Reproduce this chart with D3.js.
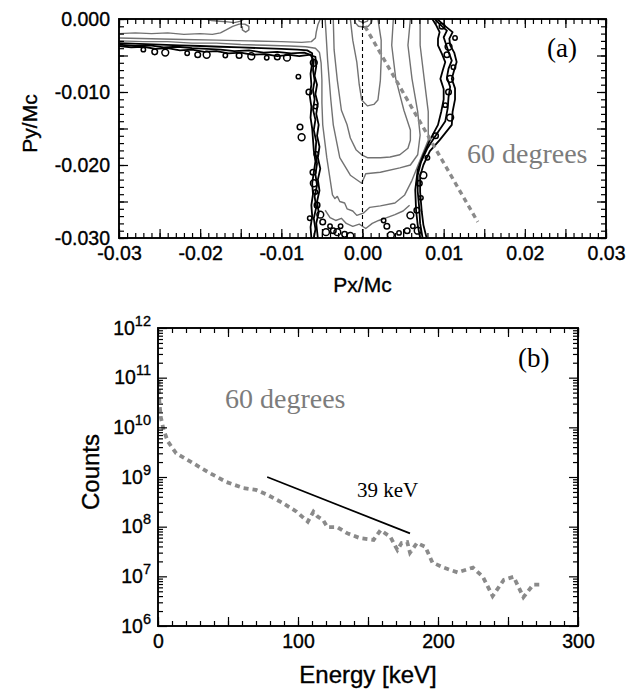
<!DOCTYPE html>
<html>
<head>
<meta charset="utf-8">
<script src="https://cdn.jsdelivr.net/npm/d3@7"></script>
<style>
  body { margin: 0; background: #fff; }
  svg { display: block; }
</style>
</head>
<body>
<svg id="fig" width="637" height="691"></svg>
<script>
// ---------- panel (a): momentum-space contours, [Px/Mc, Py/Mc] ----------
const pxTicks = [-0.03, -0.02, -0.01, 0, 0.01, 0.02, 0.03];
const pxTickLabels = ["-0.03", "-0.02", "-0.01", "0.00", "0.01", "0.02", "0.03"];
const pyTicks = [0, -0.01, -0.02, -0.03];
const pyTickLabels = ["0.000", "-0.010", "-0.020", "-0.030"];

// gray (lower-density) contour lines
const grayTopCap = [[-0.0192,0],[-0.0186,-0.0002],[-0.0176,-0.0003],[-0.0166,-0.0004],[-0.0158,-0.0005],[-0.0150,-0.0003],[-0.0146,0]];
const grayShelfTop = [[-0.0300,-0.0020],[-0.0280,-0.0019],[-0.0260,-0.0020],[-0.0240,-0.0019],[-0.0220,-0.0021],[-0.0200,-0.0020],[-0.0185,-0.0021],[-0.0175,-0.0019],[-0.0168,-0.0015],[-0.0160,-0.0010],[-0.0152,-0.0007],[-0.0145,-0.0007],[-0.0140,-0.0010],[-0.0140,-0.0015],[-0.0144,-0.0018],[-0.0148,-0.0015],[-0.0148,-0.0010]];
const grayShelf = [[-0.0300,-0.0026],[-0.0260,-0.0027],[-0.0220,-0.0028],[-0.0180,-0.0029],[-0.0140,-0.0030],[-0.0100,-0.0031],[-0.0075,-0.0032],[-0.0063,-0.0031],[-0.0058,-0.0026],[-0.0057,-0.0018],[-0.0055,-0.0008],[-0.0052,0]];
const grayCore1 = [[-0.0010,0],[-0.0009,-0.0005],[-0.0005,-0.0010],[0.0001,-0.0011],[0.0007,-0.0010],[0.0011,-0.0005],[0.0012,0]];
const grayCore2 = [[-0.0005,0],[-0.0004,-0.0003],[0.0001,-0.0005],[0.0006,-0.0003],[0.0007,0]];
const grayLevel1 = [[-0.0015,0],[-0.0012,-0.0029],[-0.0007,-0.0059],[-0.0004,-0.0090],[-0.0001,-0.0111],[0.0006,-0.0119],[0.0014,-0.0117],[0.0019,-0.0111],[0.0022,-0.0084],[0.0023,-0.0056],[0.0023,-0.0029],[0.0019,0]];
const grayLevel2 = [[-0.0036,0],[-0.0035,-0.0042],[-0.0031,-0.0084],[-0.0026,-0.0125],[-0.0019,-0.0145],[-0.0015,-0.0163],[-0.0008,-0.0179],[-0.0001,-0.0186],[0.0006,-0.0190],[0.0022,-0.0190],[0.0034,-0.0189],[0.0046,-0.0186],[0.0056,-0.0177],[0.0059,-0.0166],[0.0059,-0.0152],[0.0051,-0.0125],[0.0041,-0.0082],[0.0036,-0.0036],[0.0038,0]];
const grayLevel3 = [[-0.0046,0],[-0.0043,-0.0056],[-0.0039,-0.0111],[-0.0036,-0.0145],[-0.0031,-0.0173],[-0.0028,-0.0190],[-0.0015,-0.0214],[-0.0001,-0.0225],[0.0004,-0.0212],[0.0022,-0.0210],[0.0046,-0.0204],[0.0059,-0.0200],[0.0068,-0.0186],[0.0071,-0.0159],[0.0068,-0.0127],[0.0061,-0.0082],[0.0056,-0.0036],[0.0059,0]];
const grayLevel4 = [[-0.0300,-0.0030],[-0.0270,-0.0031],[-0.0240,-0.0031],[-0.0210,-0.0033],[-0.0180,-0.0033],[-0.0150,-0.0035],[-0.0120,-0.0036],[-0.0090,-0.0037],[-0.0070,-0.0038],[-0.0058,-0.0040],[-0.0053,-0.0046],[-0.0051,-0.0060],[-0.0050,-0.0084],[-0.0050,-0.0115],[-0.0049,-0.0145],[-0.0044,-0.0190],[-0.0037,-0.0241],[-0.0034,-0.0246],[-0.0031,-0.0243],[-0.0028,-0.0250],[-0.0022,-0.0252],[-0.0019,-0.0260],[-0.0012,-0.0263],[-0.0007,-0.0269],[0.0001,-0.0266],[0.0009,-0.0258],[0.0022,-0.0256],[0.0040,-0.0252],[0.0052,-0.0241],[0.0061,-0.0221],[0.0071,-0.0193],[0.0081,-0.0166],[0.0081,-0.0127],[0.0076,-0.0082],[0.0071,-0.0036],[0.0071,0]];
const grayLevel5 = [[-0.0046,-0.0262],[-0.0040,-0.0272],[-0.0033,-0.0276],[-0.0026,-0.0273],[-0.0020,-0.0280],[-0.0012,-0.0284],[-0.0004,-0.0281],[0.0004,-0.0287],[0.0012,-0.0280],[0.0020,-0.0276],[0.0030,-0.0272],[0.0040,-0.0268],[0.0050,-0.0263],[0.0058,-0.0255]];

// black (outermost) contour lines
const blackShelfOuter = [[-0.0300,-0.0033],[-0.0275,-0.0034],[-0.0250,-0.0035],[-0.0225,-0.0036],[-0.0200,-0.0037],[-0.0175,-0.0038],[-0.0150,-0.0039],[-0.0125,-0.0040],[-0.0100,-0.0041],[-0.0080,-0.0042],[-0.0068,-0.0043],[-0.0062,-0.0047],[-0.0062,-0.0060],[-0.0064,-0.0075],[-0.0063,-0.0090],[-0.0065,-0.0105],[-0.0063,-0.0120],[-0.0064,-0.0135],[-0.0062,-0.0150],[-0.0061,-0.0165],[-0.0060,-0.0180],[-0.0058,-0.0195],[-0.0060,-0.0210],[-0.0062,-0.0225],[-0.0061,-0.0240],[-0.0063,-0.0255],[-0.0062,-0.0270],[-0.0064,-0.0285],[-0.0063,-0.0300]];
const blackShelfMid = [[-0.0300,-0.0035],[-0.0280,-0.0037],[-0.0262,-0.0036],[-0.0245,-0.0039],[-0.0228,-0.0038],[-0.0210,-0.0040],[-0.0192,-0.0041],[-0.0175,-0.0042],[-0.0158,-0.0044],[-0.0140,-0.0043],[-0.0122,-0.0046],[-0.0105,-0.0045],[-0.0088,-0.0047],[-0.0072,-0.0046],[-0.0064,-0.0049],[-0.0060,-0.0057],[-0.0061,-0.0070],[-0.0059,-0.0084],[-0.0061,-0.0097],[-0.0059,-0.0110],[-0.0061,-0.0124],[-0.0058,-0.0138],[-0.0060,-0.0152],[-0.0057,-0.0168],[-0.0058,-0.0183],[-0.0056,-0.0198],[-0.0058,-0.0213],[-0.0056,-0.0228],[-0.0059,-0.0243],[-0.0057,-0.0258],[-0.0060,-0.0273],[-0.0058,-0.0288],[-0.0060,-0.0300]];
const blackShelfInner = [[-0.0300,-0.0037],[-0.0285,-0.0039],[-0.0270,-0.0038],[-0.0255,-0.0041],[-0.0240,-0.0040],[-0.0225,-0.0043],[-0.0210,-0.0042],[-0.0195,-0.0045],[-0.0180,-0.0044],[-0.0165,-0.0047],[-0.0150,-0.0046],[-0.0135,-0.0049],[-0.0120,-0.0048],[-0.0105,-0.0051],[-0.0090,-0.0049],[-0.0078,-0.0051],[-0.0066,-0.0049],[-0.0058,-0.0052],[-0.0057,-0.0065],[-0.0059,-0.0078],[-0.0056,-0.0090],[-0.0058,-0.0103],[-0.0055,-0.0116],[-0.0057,-0.0130],[-0.0054,-0.0145],[-0.0056,-0.0160],[-0.0053,-0.0175],[-0.0055,-0.0190],[-0.0052,-0.0205],[-0.0055,-0.0220],[-0.0053,-0.0235],[-0.0056,-0.0250],[-0.0054,-0.0265],[-0.0057,-0.0280],[-0.0055,-0.0300]];
const blackRightOuter = [[0.0092,0],[0.0100,-0.0008],[0.0111,-0.0018],[0.0107,-0.0027],[0.0108,-0.0036],[0.0113,-0.0046],[0.0116,-0.0059],[0.0113,-0.0070],[0.0110,-0.0082],[0.0114,-0.0095],[0.0114,-0.0110],[0.0111,-0.0127],[0.0110,-0.0145],[0.0095,-0.0166],[0.0083,-0.0181],[0.0075,-0.0200],[0.0071,-0.0215],[0.0071,-0.0237],[0.0073,-0.0264],[0.0075,-0.0282],[0.0079,-0.0300]];
const blackRightMid = [[0.0089,0],[0.0095,-0.0007],[0.0104,-0.0016],[0.0100,-0.0025],[0.0103,-0.0035],[0.0106,-0.0045],[0.0110,-0.0057],[0.0106,-0.0068],[0.0104,-0.0080],[0.0108,-0.0093],[0.0106,-0.0107],[0.0105,-0.0122],[0.0102,-0.0140],[0.0090,-0.0160],[0.0080,-0.0177],[0.0072,-0.0196],[0.0068,-0.0214],[0.0068,-0.0236],[0.0070,-0.0260],[0.0071,-0.0280],[0.0074,-0.0300]];
const blackRightInner = [[0.0086,0],[0.0091,-0.0009],[0.0095,-0.0018],[0.0093,-0.0027],[0.0093,-0.0036],[0.0098,-0.0048],[0.0102,-0.0059],[0.0099,-0.0070],[0.0096,-0.0082],[0.0100,-0.0096],[0.0100,-0.0110],[0.0097,-0.0127],[0.0093,-0.0145],[0.0083,-0.0166],[0.0075,-0.0186],[0.0068,-0.0207],[0.0065,-0.0234],[0.0066,-0.0262],[0.0068,-0.0282],[0.0071,-0.0300]];
const blackLoops = [[-0.0270,-0.0042],[-0.0256,-0.0045],[-0.0243,-0.0046],[-0.0216,-0.0047],[-0.0203,-0.0049],[-0.0192,-0.0049],[-0.0169,-0.0050],[-0.0152,-0.0050],[-0.0137,-0.0051],[-0.0118,-0.0053],[-0.0105,-0.0052],[-0.0093,-0.0053],[-0.0079,-0.0079],[-0.0066,-0.0100],[-0.0060,-0.0060],[-0.0058,-0.0120],[-0.0077,-0.0148],[-0.0075,-0.0162],[-0.0057,-0.0185],[-0.0061,-0.0210],[-0.0060,-0.0225],[-0.0058,-0.0237],[-0.0056,-0.0255],[-0.0052,-0.0268],[-0.0065,-0.0273],[-0.0049,-0.0278],[-0.0045,-0.0292],[-0.0040,-0.0284],[-0.0036,-0.0290],[-0.0031,-0.0292],[-0.0027,-0.0284],[-0.0022,-0.0295],[-0.0015,-0.0297],[0.0026,-0.0276],[0.0030,-0.0284],[0.0035,-0.0296],[0.0045,-0.0293],[0.0055,-0.0290],[0.0059,-0.0269],[0.0062,-0.0284],[0.0067,-0.0262],[0.0068,-0.0290],[0.0072,-0.0245],[0.0070,-0.0225],[0.0075,-0.0214],[0.0080,-0.0190],[0.0090,-0.0160],[0.0108,-0.0135],[0.0102,-0.0118],[0.0106,-0.0100],[0.0108,-0.0082],[0.0112,-0.0066],[0.0104,-0.0049],[0.0106,-0.0038],[0.0114,-0.0026],[0.0098,-0.0010]];

// reference directions: Px = 0 axis and the 60-degree line
const zeroLine = [[0, 0], [0, -0.03]];
const sixtyLine = [[0.0003, -0.0010], [0.0142, -0.0278]];

// ---------- panel (b): energy spectrum along 60 degrees ----------
const energy = [0.3, 1, 2, 4, 7, 13, 25, 37, 49, 61, 70, 78, 89, 99, 107, 111, 114, 118, 121, 128, 135, 144, 154, 159, 166, 171, 174, 178, 180, 185, 191, 196, 204, 214, 225, 232, 239, 247, 254, 261, 268, 275];
const counts = [8.9e10, 3.2e10, 1.6e10, 8.9e9, 5.2e9, 3.0e9, 1.9e9, 1.2e9, 7.9e8, 6.0e8, 5.5e8, 4.4e8, 3.0e8, 2.0e8, 1.26e8, 2.0e8, 1.6e8, 1.35e8, 9.8e7, 9.8e7, 7.4e7, 5.9e7, 5.4e7, 8.5e7, 6.2e7, 3.4e7, 4.7e7, 4.9e7, 3.0e7, 4.7e7, 3.9e7, 1.9e7, 1.5e7, 1.2e7, 1.5e7, 9.8e6, 4.0e6, 8.5e6, 9.8e6, 3.8e6, 6.8e6, 6.8e6];
const energyTicks = [0, 100, 200, 300];
const countDecades = [6, 7, 8, 9, 10, 11, 12];
// exponential fit: temperature (keV) and the span it is drawn over
const fitTemperature = 39;
const fitEnergy = [78, 180];
const fitStartCount = 1.0e9;

// ---------- drawing ----------
const SANS = "'Liberation Sans', Arial, Helvetica, sans-serif";
const SERIF = "'Liberation Serif', 'Times New Roman', serif";
const svg = d3.select("#fig");

const A = {left: 119, right: 606, top: 19, bottom: 238};
const B = {left: 158, right: 578, top: 328, bottom: 626};

const xA = d3.scaleLinear().domain([-0.03, 0.03]).range([A.left, A.right]);
const yA = d3.scaleLinear().domain([-0.03, 0]).range([A.bottom, A.top]);
const xB = d3.scaleLinear().domain([0, 300]).range([B.left, B.right]);
const yB = d3.scaleLog().domain([1e6, 1e12]).range([B.bottom, B.top]);

// heavier sans text, like the printed labels
function sansText(sel, size) {
  return sel.attr("font-family", SANS).attr("font-size", size).attr("fill", "#000")
    .attr("stroke", "#000").attr("stroke-width", 0.35);
}

function axis(orient, scale, values, size, tx, ty, fmt, pad, fontSize) {
  const ax = orient(scale).tickValues(values).tickSize(-size).tickPadding(pad || 0)
    .tickFormat(fmt || (() => ""));
  const g = svg.append("g").attr("transform", `translate(${tx},${ty})`).call(ax);
  g.select(".domain").remove();
  g.selectAll(".tick line").attr("stroke", "#000").attr("stroke-width", 1.2);
  sansText(g.selectAll(".tick text"), fontSize || 19);
  return g;
}

// ----- panel (a) -----
svg.append("clipPath").attr("id", "clipA").append("rect")
  .attr("x", A.left).attr("y", A.top).attr("width", A.right - A.left).attr("height", A.bottom - A.top);
const plotA = svg.append("g").attr("clip-path", "url(#clipA)");
const lineA = d3.line().x(d => xA(d[0])).y(d => yA(d[1]));

[grayTopCap, grayShelfTop, grayShelf, grayCore1, grayCore2, grayLevel1, grayLevel2, grayLevel3, grayLevel4, grayLevel5]
  .forEach(c => plotA.append("path").attr("d", lineA(c)).attr("fill", "none")
    .attr("stroke", "#727272").attr("stroke-width", 1.4).attr("stroke-linejoin", "round"));

[blackShelfOuter, blackShelfMid, blackShelfInner, blackRightOuter, blackRightMid, blackRightInner]
  .forEach(c => plotA.append("path").attr("d", lineA(c)).attr("fill", "none")
    .attr("stroke", "#000").attr("stroke-width", 1.8).attr("stroke-linejoin", "round"));

plotA.selectAll("circle.loop").data(blackLoops).join("circle").attr("class", "loop")
  .attr("cx", d => xA(d[0])).attr("cy", d => yA(d[1])).attr("r", (d, i) => 2.2 + (i % 3) * 0.6)
  .attr("fill", "none").attr("stroke", "#000").attr("stroke-width", 1.5);

plotA.append("path").attr("d", lineA(zeroLine)).attr("fill", "none")
  .attr("stroke", "#000").attr("stroke-width", 1.1).attr("stroke-dasharray", "4,3");
plotA.append("path").attr("d", lineA(sixtyLine)).attr("fill", "none")
  .attr("stroke", "#8a8a8a").attr("stroke-width", 3.4).attr("stroke-dasharray", "5,4");

// ticks and frame of (a)
const xMinorA = d3.range(-30, 31).map(i => i / 1000);
const xMajorA = d3.range(-6, 7).map(i => i * 0.005);
const yMinorA = d3.range(-30, 1).map(i => i / 1000);
const yMajorA = d3.range(-6, 1).map(i => i * 0.005);
[[d3.axisBottom, 0, A.bottom], [d3.axisTop, 0, A.top]].forEach(([o, tx, ty]) => {
  axis(o, xA, xMinorA, 5, tx, ty);
  axis(o, xA, xMajorA, 9, tx, ty);
});
[[d3.axisLeft, A.left, 0], [d3.axisRight, A.right, 0]].forEach(([o, tx, ty]) => {
  axis(o, yA, yMinorA, 5, tx, ty);
  axis(o, yA, yMajorA, 9, tx, ty);
});
axis(d3.axisBottom, xA, pxTicks, 0, 0, A.bottom, (d, i) => pxTickLabels[i], 8, 19.5);
axis(d3.axisLeft, yA, pyTicks, 0, A.left, 0, (d, i) => pyTickLabels[i], 9, 19.5);

svg.append("rect").attr("x", A.left).attr("y", A.top).attr("width", A.right - A.left)
  .attr("height", A.bottom - A.top).attr("fill", "none").attr("stroke", "#000").attr("stroke-width", 1.9);

sansText(svg.append("text").attr("x", (A.left + A.right) / 2).attr("y", 292).attr("text-anchor", "middle"), 21)
  .text("Px/Mc");
sansText(svg.append("text").attr("transform", `translate(37,${(A.top + A.bottom) / 2 - 5}) rotate(-90)`)
  .attr("text-anchor", "middle"), 21).text("Py/Mc");
svg.append("text").attr("x", 547).attr("y", 57).attr("font-family", SERIF).attr("font-size", 27).text("(a)");
svg.append("text").attr("x", 467).attr("y", 163).attr("font-family", SERIF).attr("font-size", 28)
  .attr("fill", "#7c7c7c").text("60 degrees");

// ----- panel (b) -----
svg.append("clipPath").attr("id", "clipB").append("rect")
  .attr("x", B.left).attr("y", B.top).attr("width", B.right - B.left).attr("height", B.bottom - B.top);
const plotB = svg.append("g").attr("clip-path", "url(#clipB)");

const spectrum = energy.map((e, i) => [e, counts[i]]);
plotB.append("path")
  .attr("d", d3.line().x(d => xB(d[0])).y(d => yB(d[1]))(spectrum))
  .attr("fill", "none").attr("stroke", "#8a8a8a").attr("stroke-width", 3.8).attr("stroke-dasharray", "5,4");

const fitLine = fitEnergy.map(e => [e, fitStartCount * Math.exp(-(e - fitEnergy[0]) / fitTemperature)]);
plotB.append("path")
  .attr("d", d3.line().x(d => xB(d[0])).y(d => yB(d[1]))(fitLine))
  .attr("fill", "none").attr("stroke", "#000").attr("stroke-width", 1.7);

// ticks and frame of (b)
const xMinorB = d3.range(0, 301, 10);
const xMajorB = d3.range(0, 301, 50);
const yMajorB = countDecades.map(k => Math.pow(10, k));
const yMinorB = [];
countDecades.slice(0, -1).forEach(k => d3.range(2, 10).forEach(m => yMinorB.push(m * Math.pow(10, k))));
[[d3.axisBottom, 0, B.bottom], [d3.axisTop, 0, B.top]].forEach(([o, tx, ty]) => {
  axis(o, xB, xMinorB, 5, tx, ty);
  axis(o, xB, xMajorB, 9, tx, ty);
});
[[d3.axisLeft, B.left, 0], [d3.axisRight, B.right, 0]].forEach(([o, tx, ty]) => {
  axis(o, yB, yMinorB, 5, tx, ty);
  axis(o, yB, yMajorB, 9, tx, ty);
});
axis(d3.axisBottom, xB, energyTicks, 0, 0, B.bottom, d => String(d), 8, 19.5);

// power-of-ten labels on the count axis
const yLab = axis(d3.axisLeft, yB, yMajorB, 0, B.left, 0);
sansText(yLab.selectAll(".tick").append("text")
  .attr("x", -7).attr("y", 6).attr("text-anchor", "end"), 19.5)
  .each(function (d) {
    const t = d3.select(this);
    t.append("tspan").text("10");
    t.append("tspan").attr("dy", -9).attr("font-size", 14.5).text(String(Math.round(Math.log10(d))));
  });

svg.append("rect").attr("x", B.left).attr("y", B.top).attr("width", B.right - B.left)
  .attr("height", B.bottom - B.top).attr("fill", "none").attr("stroke", "#000").attr("stroke-width", 1.9);

sansText(svg.append("text").attr("x", (B.left + B.right) / 2).attr("y", 683).attr("text-anchor", "middle"), 24)
  .text("Energy [keV]");
sansText(svg.append("text").attr("transform", `translate(99,${(B.top + B.bottom) / 2 - 5}) rotate(-90)`)
  .attr("text-anchor", "middle"), 24).text("Counts");
svg.append("text").attr("x", 518).attr("y", 367).attr("font-family", SERIF).attr("font-size", 27).text("(b)");
svg.append("text").attr("x", 225).attr("y", 408).attr("font-family", SERIF).attr("font-size", 28)
  .attr("fill", "#7c7c7c").text("60 degrees");
svg.append("text").attr("x", 357).attr("y", 497).attr("font-family", SERIF).attr("font-size", 21)
  .text(`${fitTemperature} keV`);
</script>
</body>
</html>
